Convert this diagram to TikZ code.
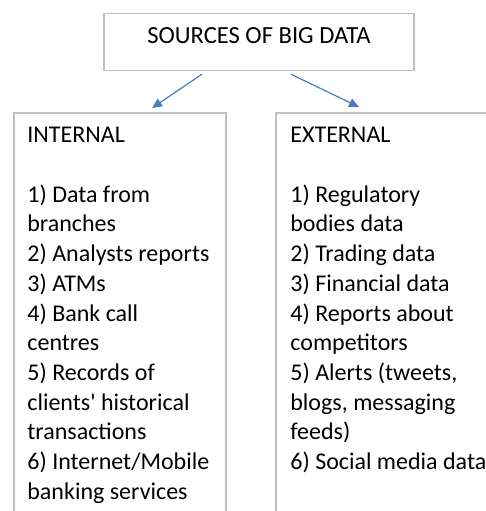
\documentclass[tikz,border=0pt]{standalone}
\usepackage{fontspec}
\setmainfont{Carlito}
\usetikzlibrary{arrows.meta}
\definecolor{framegray}{HTML}{BFBFBF}
\definecolor{officeblue}{HTML}{4A7EBB}
\begin{document}
\begin{tikzpicture}[
    x=0.5pt, y=-0.5pt,
    every node/.style={font=\fontsize{12}{14.85}\selectfont},
    frame/.style={draw=framegray, line width=0.6pt},
    panel/.style={anchor=north west, align=flush left, inner xsep=6.5pt, inner ysep=7pt, text width=110pt},
    arrow/.style={-{Triangle[length=5pt,width=4.5pt]}, draw=officeblue, fill=officeblue, line width=0.6pt}
]
    \path[use as bounding box, clip] (0,0) rectangle (486,511);
    \coordinate (floor) at (0,560);

    % Title
    \node[frame, anchor=north, minimum width=155pt, inner ysep=7pt,
          text height=8pt, text depth=6.5pt, font=\fontsize{12.3}{14.85}\selectfont] (title) at (259,13) {SOURCES OF BIG DATA};

    % Boxes
    \node[panel] (internal) at (14,113)
        {INTERNAL\\[\baselineskip]
         1) Data from\\ branches\\
         2) Analysts reports\\
         3) ATMs\\
         4) Bank call\\ centres\\
         5) Records of\\ clients\textquotesingle{} historical\\ transactions\\
         6) Internet/Mobile\\ banking services};
    \node[panel, inner xsep=7pt] (external) at (276,113)
        {EXTERNAL\\[\baselineskip]
         1) Regulatory\\ bodies data\\
         2) Trading data\\
         3) Financial data\\
         4) Reports about\\ competitors\\
         5) Alerts (tweets,\\ blogs, messaging\\ feeds)\\
         6) Social media data};
    \draw[frame] (internal.north west) rectangle ([xshift=106pt]internal.north west |- floor);
    \draw[frame] (external.north west) rectangle (external.north east |- floor);

    % Arrows
    \draw[arrow] ([xshift=-28.5pt,yshift=-1.5pt]title.south) -- ([xshift=69pt,yshift=2.5pt]internal.north west);
    \draw[arrow] ([xshift=16pt,yshift=-1.5pt]title.south) -- ([xshift=41.5pt,yshift=3pt]external.north west);
\end{tikzpicture}
\end{document}
